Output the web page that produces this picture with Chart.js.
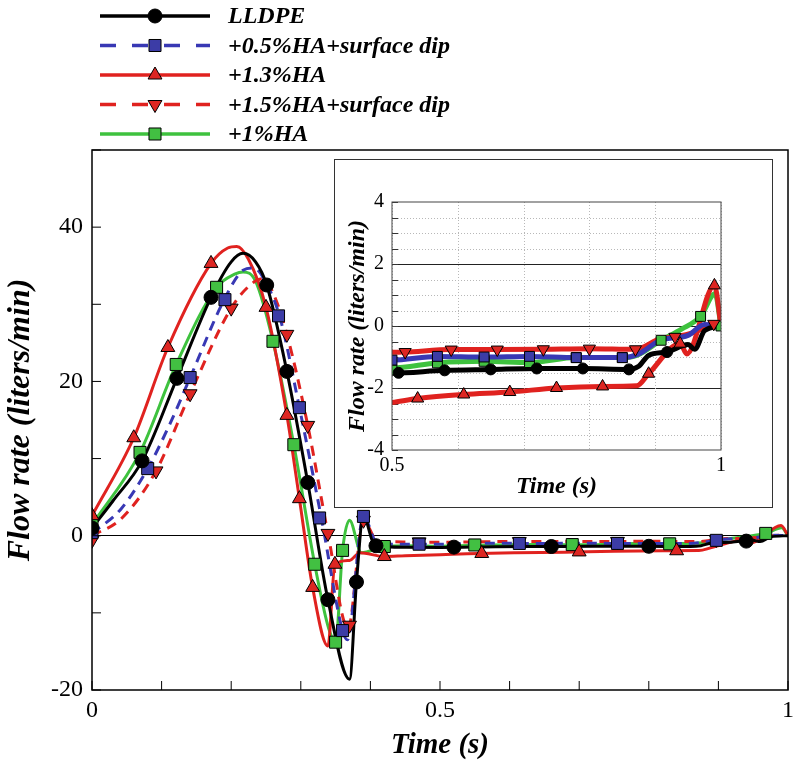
<!DOCTYPE html>
<html>
<head>
<meta charset="utf-8">
<script src="https://cdn.jsdelivr.net/npm/chart.js@4.4.1/dist/chart.umd.min.js"></script>
<style>
  html, body { margin: 0; padding: 0; background: #fff; }
  #wrap { position: relative; width: 800px; height: 769px; }
  #inset { position: absolute; left: 334px; top: 159px; width: 439px; height: 349px;
           box-sizing: border-box; border: 1px solid #333; background: #fff; }
</style>
</head>
<body>
<div id="wrap">
  <canvas id="mainChart" width="800" height="769"></canvas>
  <div id="inset"><canvas id="insetChart" width="437" height="347"></canvas></div>
</div>
<script>
'use strict';

var seriesNames = ['LLDPE', '+0.5%HA+surface dip', '+1.3%HA', '+1.5%HA+surface dip', '+1%HA'];

// LLDPE
var lldpeTime = [0, 0.03, 0.072, 0.122, 0.171, 0.20, 0.217, 0.235, 0.251, 0.28, 0.31, 0.339, 0.370, 0.380, 0.390, 0.406, 0.45, 0.5, 0.58, 0.65, 0.72, 0.79, 0.86, 0.875, 0.89, 0.918, 0.95, 0.96, 0.975, 1.0];
var lldpeFlow = [1.0, 4.5, 9.7, 20.4, 30.9, 35.5, 36.6, 35.5, 32.5, 21.3, 6.9, -8.3, -18.6, -6.0, 2.6, -1.2, -1.5, -1.52, -1.43, -1.40, -1.37, -1.37, -1.40, -1.3, -0.95, -0.84, -0.6, -0.75, -0.15, 0];
var lldpeMarkTime = [0, 0.072, 0.122, 0.171, 0.251, 0.28, 0.31, 0.339, 0.38, 0.408, 0.52, 0.66, 0.80, 0.94];
var lldpeMarkFlow = [1.0, 9.7, 20.4, 30.9, 32.5, 21.3, 6.9, -8.3, -6.0, -1.3, -1.48, -1.40, -1.37, -0.7];
var lldpeInsetTime = [0.51, 0.58, 0.65, 0.72, 0.79, 0.86, 0.918];
var lldpeInsetFlow = [-1.51, -1.43, -1.40, -1.37, -1.37, -1.40, -0.84];

// +0.5%HA+surface dip
var ha05Time = [0, 0.042, 0.080, 0.112, 0.141, 0.19, 0.217, 0.232, 0.25, 0.27, 0.298, 0.33, 0.36, 0.367, 0.39, 0.41, 0.45, 0.5, 0.569, 0.64, 0.709, 0.78, 0.85, 0.875, 0.908, 0.95, 0.975, 1.0];
var ha05Flow = [0.3, 3.5, 8.7, 14.5, 20.5, 30.6, 34.4, 34.7, 32.8, 28.3, 16.6, 2.1, -12.3, -13.5, 2.5, -1.0, -1.1, -1.1, -0.98, -1.0, -0.98, -1.02, -1.02, -0.9, -0.46, -0.3, 0.05, 0];
var ha05MarkTime = [0, 0.080, 0.141, 0.191, 0.268, 0.298, 0.327, 0.36, 0.39, 0.47, 0.614, 0.755, 0.897];
var ha05MarkFlow = [0.4, 8.7, 20.5, 30.6, 28.5, 16.6, 2.3, -12.3, 2.5, -1.1, -1.0, -1.0, -0.6];
var ha05InsetTime = [0.5, 0.569, 0.64, 0.709, 0.78, 0.85];
var ha05InsetFlow = [-1.1, -0.98, -1.0, -0.98, -1.02, -1.02];

// +1.3%HA
var ha13Time = [0, 0.06, 0.109, 0.171, 0.195, 0.208, 0.225, 0.25, 0.28, 0.298, 0.317, 0.339, 0.349, 0.37, 0.385, 0.42, 0.45, 0.5, 0.539, 0.609, 0.679, 0.75, 0.82, 0.872, 0.89, 0.938, 0.948, 0.99, 1.0];
var ha13Flow = [2.6, 12.7, 24.4, 35.3, 37.3, 37.5, 35.8, 29.6, 15.6, 4.8, -6.7, -14.3, -3.7, -3.2, -2.2, -2.7, -2.6, -2.47, -2.34, -2.21, -2.13, -2.0, -1.95, -1.93, -1.54, -0.57, -0.9, 1.31, 0];
var ha13MarkTime = [0, 0.06, 0.109, 0.171, 0.25, 0.28, 0.298, 0.317, 0.349, 0.42, 0.56, 0.70, 0.84];
var ha13MarkFlow = [2.6, 12.7, 24.4, 35.3, 29.6, 15.6, 4.8, -6.7, -3.7, -2.7, -2.3, -2.1, -1.95];
var ha13InsetTime = [0.539, 0.609, 0.679, 0.75, 0.82, 0.89, 0.938, 0.99];
var ha13InsetFlow = [-2.34, -2.21, -2.13, -2.0, -1.95, -1.54, -0.57, 1.31];

// +1.5%HA+surface dip
var ha15Time = [0, 0.042, 0.092, 0.141, 0.2, 0.23, 0.245, 0.26, 0.28, 0.31, 0.339, 0.368, 0.39, 0.41, 0.45, 0.5, 0.52, 0.59, 0.66, 0.73, 0.80, 0.87, 0.908, 0.93, 0.96, 0.989, 1.0];
var ha15Flow = [0, 2.2, 8.4, 18.4, 29.5, 32.7, 33.3, 31.5, 26.1, 14.3, 0.3, -12.0, 2.0, -0.7, -0.8, -0.85, -0.84, -0.76, -0.76, -0.75, -0.73, -0.75, -0.4, -0.35, -0.2, 0.07, 0];
var ha15MarkTime = [0, 0.092, 0.141, 0.2, 0.28, 0.31, 0.339, 0.37, 0.39, 0.47, 0.614, 0.755, 0.897];
var ha15MarkFlow = [-0.6, 8.4, 18.4, 29.5, 26.1, 14.3, 0.3, -11.6, 2.0, -0.8, -0.76, -0.74, -0.5];
var ha15InsetTime = [0.52, 0.59, 0.66, 0.73, 0.80, 0.87, 0.93, 0.989];
var ha15InsetFlow = [-0.84, -0.76, -0.76, -0.75, -0.73, -0.75, -0.35, 0.07];

// +1%HA
var ha1Time = [0, 0.069, 0.121, 0.179, 0.205, 0.217, 0.235, 0.26, 0.29, 0.32, 0.34, 0.350, 0.360, 0.370, 0.387, 0.42, 0.45, 0.5, 0.569, 0.64, 0.709, 0.78, 0.85, 0.872, 0.909, 0.94, 0.969, 0.991, 1.0];
var ha1Flow = [1.4, 10.8, 22.2, 32.2, 33.9, 34.2, 33.0, 25.2, 11.8, -3.7, -12.0, -13.8, -1.9, 2.0, -2.2, -1.4, -1.3, -1.35, -1.19, -1.14, -1.18, -1.02, -1.02, -0.95, -0.46, -0.1, 0.31, 1.04, 0];
var ha1MarkTime = [0, 0.069, 0.121, 0.179, 0.26, 0.29, 0.32, 0.35, 0.36, 0.42, 0.55, 0.69, 0.83, 0.968];
var ha1MarkFlow = [1.4, 10.8, 22.2, 32.2, 25.2, 11.8, -3.7, -13.8, -1.9, -1.4, -1.2, -1.15, -1.05, 0.3];
var ha1InsetTime = [0.5, 0.569, 0.64, 0.709, 0.78, 0.85, 0.909, 0.969, 1.0];
var ha1InsetFlow = [-1.42, -1.19, -1.14, -1.18, -1.02, -1.02, -0.46, 0.31, 0];

var xTickLabels = ['0', '0.5', '1'];
var yTickLabels = ['-20', '0', '20', '40'];
var insetXTickLabels = ['0.5', '1'];
var insetYTickLabels = ['-4', '-2', '0', '2', '4'];

function pts(t, q) {
    return t.map(function (x, i) { return { x: x, y: q[i] }; });
}
function fmt(v) {
    return String(Math.round(v * 100) / 100);
}

var series = [
    { line: pts(lldpeTime, lldpeFlow), marks: pts(lldpeMarkTime, lldpeMarkFlow), inset: pts(lldpeInsetTime, lldpeInsetFlow),
      color: '#000000', fill: '#000000', dash: [], legendDash: [], style: 'circle', rot: 0, r: 7, ri: 5.5 },
    { line: pts(ha05Time, ha05Flow), marks: pts(ha05MarkTime, ha05MarkFlow), inset: pts(ha05InsetTime, ha05InsetFlow),
      color: '#3838b4', fill: '#3c3ca6', dash: [10, 7], legendDash: [16, 16], style: 'rect', rot: 0, r: 8.5, ri: 7 },
    { line: pts(ha13Time, ha13Flow), marks: pts(ha13MarkTime, ha13MarkFlow), inset: pts(ha13InsetTime, ha13InsetFlow),
      color: '#e0221f', fill: '#dd2622', dash: [], legendDash: [], style: 'triangle', rot: 0, r: 8, ri: 7 },
    { line: pts(ha15Time, ha15Flow), marks: pts(ha15MarkTime, ha15MarkFlow), inset: pts(ha15InsetTime, ha15InsetFlow),
      color: '#e0221f', fill: '#dd2622', dash: [10, 7], legendDash: [16, 16], style: 'triangle', rot: 180, r: 8, ri: 7 },
    { line: pts(ha1Time, ha1Flow), marks: pts(ha1MarkTime, ha1MarkFlow), inset: pts(ha1InsetTime, ha1InsetFlow),
      color: '#3ec23e', fill: '#42c042', dash: [], legendDash: [], style: 'rect', rot: 0, r: 8.5, ri: 7 }
];

function buildSets(isInset) {
    var sets = [];
    series.forEach(function (s) {
        sets.push({
            data: s.line, borderColor: s.color, borderWidth: isInset ? 5 : 3,
            borderDash: isInset ? [] : s.dash, pointRadius: 0, fill: false,
            cubicInterpolationMode: 'monotone', tension: 0.4, order: 2
        });
        sets.push({
            data: isInset ? s.inset : s.marks, showLine: false,
            pointStyle: s.style, pointRotation: s.rot, pointRadius: isInset ? s.ri : s.r,
            pointBackgroundColor: s.fill, pointBorderColor: '#000', pointBorderWidth: 1, order: 1
        });
    });
    return sets;
}

var serif = '"Liberation Serif", "DejaVu Serif", serif';

// frame round the plot, inward ticks, legend
var mainDecor = {
    id: 'mainDecor',
    afterDatasetsDraw: function (chart) {
        var ctx = chart.ctx, a = chart.chartArea;
        var xs = chart.scales.x, ys = chart.scales.y;
        ctx.save();
        ctx.strokeStyle = '#000';
        ctx.lineWidth = 1.5;
        ctx.strokeRect(a.left, a.top, a.right - a.left, a.bottom - a.top);
        ctx.beginPath();
        xs.ticks.forEach(function (t) {
            var px = xs.getPixelForValue(t.value);
            ctx.moveTo(px, a.bottom); ctx.lineTo(px, a.bottom - 9);
        });
        ys.ticks.forEach(function (t) {
            var py = ys.getPixelForValue(t.value);
            ctx.moveTo(a.left, py); ctx.lineTo(a.left + 9, py);
        });
        ctx.lineWidth = 1;
        ctx.stroke();

        // legend
        ctx.font = 'bold italic 24px ' + serif;
        ctx.textBaseline = 'middle';
        series.forEach(function (s, i) {
            var y = 16 + i * 29.5;
            ctx.beginPath();
            ctx.setLineDash(s.legendDash);
            ctx.strokeStyle = s.color;
            ctx.lineWidth = 3.5;
            ctx.moveTo(100, y); ctx.lineTo(210, y);
            ctx.stroke();
            ctx.setLineDash([]);
            ctx.fillStyle = s.fill;
            ctx.strokeStyle = '#000';
            ctx.lineWidth = 1;
            Chart.helpers.drawPoint(ctx, { pointStyle: s.style, radius: s.r, rotation: s.rot, borderWidth: 1 }, 155, y);
            ctx.fillStyle = '#000';
            ctx.fillText(seriesNames[i], 228, y + 1);
        });
        ctx.restore();
    }
};

var insetDecor = {
    id: 'insetDecor',
    beforeDatasetsDraw: function (chart) {
        var ctx = chart.ctx, a = chart.chartArea;
        var xs = chart.scales.x, ys = chart.scales.y;
        ctx.save();
        ctx.strokeStyle = '#b8b8b8';
        ctx.lineWidth = 1;
        ctx.setLineDash([1, 2]);
        ctx.beginPath();
        xs.ticks.forEach(function (t) {
            var px = Math.round(xs.getPixelForValue(t.value)) + 0.5;
            ctx.moveTo(px, a.top); ctx.lineTo(px, a.bottom);
        });
        ys.ticks.forEach(function (t) {
            if (insetYTickLabels.indexOf(fmt(t.value)) >= 0) return;
            var py = Math.round(ys.getPixelForValue(t.value)) + 0.5;
            ctx.moveTo(a.left, py); ctx.lineTo(a.right, py);
        });
        ctx.stroke();
        ctx.setLineDash([]);
        ctx.beginPath();
        ys.ticks.forEach(function (t) {
            var py = Math.round(ys.getPixelForValue(t.value)) + 0.5;
            ctx.moveTo(a.left, py); ctx.lineTo(a.left + 6, py);
        });
        ctx.strokeStyle = '#333';
        ctx.stroke();
        ctx.restore();
    },
    afterDatasetsDraw: function (chart) {
        var ctx = chart.ctx, a = chart.chartArea;
        ctx.save();
        ctx.strokeStyle = '#444';
        ctx.lineWidth = 1;
        ctx.strokeRect(a.left, a.top, a.right - a.left, a.bottom - a.top);
        ctx.restore();
    }
};

var mainChart = new Chart(document.getElementById('mainChart'), {
    type: 'line',
    data: { datasets: buildSets(false) },
    plugins: [mainDecor],
    options: {
        responsive: false,
        animation: false,
        layout: { padding: { top: 150, right: 11, left: 0, bottom: 0 } },
        plugins: { legend: { display: false }, tooltip: { enabled: false } },
        scales: {
            x: {
                type: 'linear', min: 0, max: 1,
                afterFit: function (scale) { scale.height = 79; },
                ticks: {
                    stepSize: 0.1, autoSkip: false, maxRotation: 0, padding: 6, color: '#000',
                    font: { family: serif, size: 24 },
                    callback: function (v) { var s = fmt(v); return xTickLabels.indexOf(s) >= 0 ? s : ''; }
                },
                grid: { display: false, drawTicks: false },
                border: { display: false },
                title: { display: true, text: 'Time (s)', color: '#000', padding: { top: 4, bottom: 6 },
                         font: { family: serif, size: 29, weight: 'bold', style: 'italic' } }
            },
            y: {
                type: 'linear', min: -20, max: 50,
                afterFit: function (scale) { scale.width = 92; },
                ticks: {
                    stepSize: 10, autoSkip: false, padding: 9, color: '#000',
                    font: { family: serif, size: 24 },
                    callback: function (v) { var s = fmt(v); return yTickLabels.indexOf(s) >= 0 ? s : ''; }
                },
                grid: {
                    drawTicks: false, lineWidth: 1,
                    color: function (c) { return c.tick && c.tick.value === 0 ? '#000' : 'rgba(0,0,0,0)'; }
                },
                border: { display: false },
                title: { display: true, text: 'Flow rate (liters/min)', color: '#000', padding: { top: 2, bottom: 4 },
                         font: { family: serif, size: 32, weight: 'bold', style: 'italic' } }
            }
        }
    }
});

var insetChart = new Chart(document.getElementById('insetChart'), {
    type: 'line',
    data: { datasets: buildSets(true) },
    plugins: [insetDecor],
    options: {
        responsive: false,
        animation: false,
        layout: { padding: { top: 42, right: 51, left: 0, bottom: 0 } },
        plugins: { legend: { display: false }, tooltip: { enabled: false } },
        scales: {
            x: {
                type: 'linear', min: 0.5, max: 1,
                afterFit: function (scale) { scale.height = 57; },
                ticks: {
                    stepSize: 0.1, autoSkip: false, maxRotation: 0, padding: 4, color: '#000',
                    font: { family: serif, size: 20 },
                    callback: function (v) { var s = fmt(v); return insetXTickLabels.indexOf(s) >= 0 ? s : ''; }
                },
                grid: { display: false, drawTicks: false },
                border: { display: false },
                title: { display: true, text: 'Time (s)', color: '#000', padding: { top: 2, bottom: 6 },
                         font: { family: serif, size: 24, weight: 'bold', style: 'italic' } }
            },
            y: {
                type: 'linear', min: -4, max: 4,
                afterFit: function (scale) { scale.width = 57; },
                ticks: {
                    stepSize: 0.5, autoSkip: false, padding: 8, color: '#000',
                    font: { family: serif, size: 20 },
                    callback: function (v) { var s = fmt(v); return insetYTickLabels.indexOf(s) >= 0 ? s : ''; }
                },
                grid: {
                    drawTicks: false, lineWidth: 1,
                    color: function (c) {
                        var s = c.tick ? fmt(c.tick.value) : '';
                        return (s === '2' || s === '0' || s === '-2') ? '#222' : 'rgba(0,0,0,0)';
                    }
                },
                border: { display: false },
                title: { display: true, text: 'Flow rate (liters/min)', color: '#000', padding: { top: 8, bottom: 4 },
                         font: { family: serif, size: 24, weight: 'bold', style: 'italic' } }
            }
        }
    }
});
</script>
</body>
</html>
